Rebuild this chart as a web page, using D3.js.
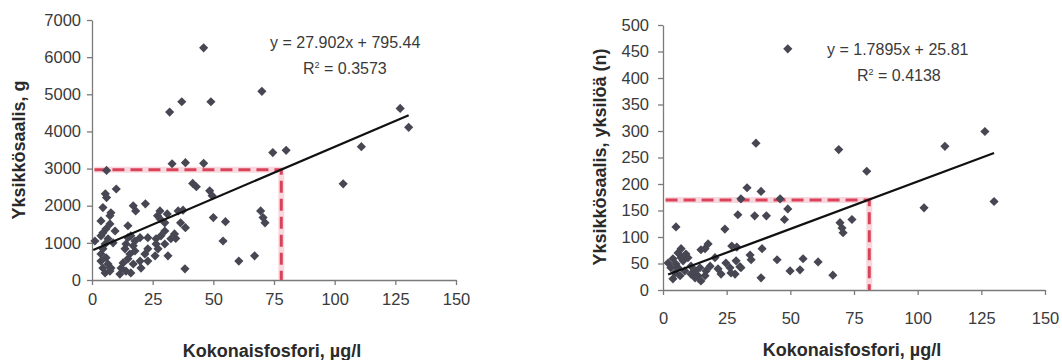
<!DOCTYPE html>
<html><head><meta charset="utf-8">
<script src="https://cdn.jsdelivr.net/npm/d3@7/dist/d3.min.js"></script>
<style>body{margin:0;background:#fff}svg{display:block}</style>
</head><body><svg id="c" width="1062" height="360"></svg>
<script>
// ---------- data ----------
const xTickValues = [0, 25, 50, 75, 100, 125, 150];
const leftYTickValues = [0, 1000, 2000, 3000, 4000, 5000, 6000, 7000];
const rightYTickValues = [0, 50, 100, 150, 200, 250, 300, 350, 400, 450, 500];

const xTitle = "Kokonaisfosfori, µg/l";
const leftYTitle = "Yksikkösaalis, g";
const rightYTitle = "Yksikkösaalis, yksilöä (n)";
const leftEquation = ["y = 27.902x + 795.44", "0.3573"];
const rightEquation = ["y = 1.7895x + 25.81", "0.4138"];

// [kokonaisfosfori µg/l, yksikkösaalis g]
const leftPoints = [
  [6,2950],[32,4520],[37,4800],[46,6250],[49,4800],[70,5080],[33,3130],[38.5,3160],[46,3140],[74.5,3430],[80,3490],
  [48.5,2400],[49.5,2270],[50,1680],[55,1570],[54,1050],[60.5,510],[67,650],[69.5,1860],[70.5,1680],[71.3,1540],
  [103.5,2590],[111,3590],[127,4620],[130.5,4110],
  [41.5,2600],[43,2510],[10,2450],[5.5,2320],[6,2220],[4.5,1950],[7.8,1810],[7.4,1730],[17,2000],[18,1860],[22,2050],
  [28,1860],[31,1780],[35.5,1860],[27,1730],[36.5,1540],[30,1540],[38.5,1410],[14.8,1460],[3.7,1590],[7.4,1510],
  [5.8,1380],[9.5,1320],[4.5,1270],[3.7,1190],[1.2,1050],[6.6,1110],[5.4,970],[8.7,1000],[4.5,840],[3.7,700],
  [5.8,600],[3.7,510],[6.6,430],[4.5,320],[5.4,190],[7.4,240],[7.8,320],
  [14.8,1140],[16,1190],[17.7,1050],[14,970],[17,920],[13.6,840],[17.7,780],[15.6,700],[19.8,1140],[23,1140],
  [26.4,1110],[28.4,1190],[30,1320],[32.5,1110],[34.5,1120],[30,970],[26.4,970],[27.2,840],[31.3,650],
  [23,840],[21.8,700],[26,650],[19.8,510],[23,510],[14.8,570],[12.8,460],[17,430],[12,320],[14,240],[11.5,160],
  [16,190],[20.2,320],[38.3,300],[34,1240],[37.5,1880],[28,1650]
];
// [kokonaisfosfori µg/l, yksilöä n]
const rightPoints = [
  [49,455],[36.5,277],[69,265],[80,224],[110.7,271],[126.4,299],[130,167],[102.5,155],
  [69.5,127],[70.3,117],[70.7,108],[74.2,133],[49,153],[47.7,133],[46,172],[40.6,140],[38.9,78],[44.8,57],
  [49.9,36],[53.8,38],[55,59],[60.9,53],[66.7,28],[38.5,23],
  [33,193],[38.5,186],[30.6,172],[29.4,142],[36,140],[5.1,119],[24.3,115],[16.5,78],[17.7,87],[14.9,76],
  [27,83],[29,81],[34.2,66],[34.6,57],[21.6,40],[24.7,51],[26.3,42],[28.3,30],[30.2,44],[26.7,32],[20.4,61],
  [3.9,59],[5.9,70],[7.1,78],[9,68],[9.8,61],[7.9,55],[2,51],[5.1,49],[3.1,42],[4.7,32],[6.7,27],[3.9,21],
  [8.6,36],[11,45],[12.6,36],[14.5,42],[13.7,27],[16.5,27],[14.9,17],[16.9,36],[18.5,45],[12.6,23],[11,30],
  [7.1,61],[5.9,42],[22.8,30],[28.7,55],[30.6,42]
];

const leftTrend = [[0.5, 810], [130.5, 4437]];
const rightTrend = [[2, 29.4], [130, 258.4]];
const leftGuide = [78, 2970];
const rightGuide = [81, 170];
const guideStartX = 1;

// ---------- drawing ----------
const svg = d3.select("#c");
const FONT = "'Liberation Sans', Arial, sans-serif";
const TEXT = "#3a3a3a";
const AXIS = "#7a7a7a";
const MARK = "#474753";
const RED = "#d9435a";

function chart(cfg) {
  const x = d3.scaleLinear().domain([0, 150]).range(cfg.xRange);
  const y = d3.scaleLinear().domain(cfg.yDomain).range(cfg.yRange);
  const g = svg.append("g");

  const ya = g.append("g").attr("transform", `translate(${cfg.xRange[0]},0)`)
    .call(d3.axisLeft(y).tickValues(cfg.yTicks).tickSize(5).tickSizeOuter(0).tickPadding(cfg.yPad).tickFormat(d3.format("d")));
  const xa = g.append("g").attr("transform", `translate(0,${cfg.yRange[0]})`)
    .call(d3.axisBottom(x).tickValues(xTickValues).tickSize(5).tickSizeOuter(0).tickPadding(cfg.xPad).tickFormat(d3.format("d")));
  [ya, xa].forEach(a => {
    a.select(".domain").attr("stroke", AXIS).attr("stroke-width", 1.3);
    a.selectAll(".tick line").attr("stroke", AXIS).attr("stroke-width", 1.3);
    a.selectAll(".tick text").attr("fill", TEXT).style("font-family", FONT).style("font-size", "16.5px");
  });

  // guide lines (halo + dashes)
  const gx = cfg.guide[0], gy = cfg.guide[1];
  const guidePath = d3.line()([[x(guideStartX), y(gy)], [x(gx), y(gy)], [x(gx), y(0)]]);
  g.append("path").attr("d", guidePath).attr("fill", "none").attr("stroke", "#f2b8c2").attr("stroke-width", 6).attr("opacity", 0.55);
  g.append("path").attr("d", guidePath).attr("fill", "none").attr("stroke", RED).attr("stroke-width", 3)
    .attr("stroke-dasharray", "12,6");

  // points
  g.append("g").selectAll("path").data(cfg.points).join("path")
    .attr("d", d3.symbol(d3.symbolSquare, 42)())
    .attr("transform", d => `translate(${x(d[0])},${y(d[1])}) rotate(45)`)
    .attr("fill", MARK);

  // trend line
  g.append("path").attr("d", d3.line().x(d => x(d[0])).y(d => y(d[1]))(cfg.trend))
    .attr("stroke", "#111").attr("stroke-width", 2.2).attr("fill", "none");

  // equation
  g.append("text").attr("x", cfg.eqPos[0]).attr("y", cfg.eqPos[1]).attr("fill", TEXT)
    .style("font-family", FONT).style("font-size", "16px").text(cfg.eq[0]);
  const r = g.append("text").attr("x", cfg.rPos[0]).attr("y", cfg.rPos[1]).attr("fill", TEXT)
    .style("font-family", FONT).style("font-size", "16px");
  r.append("tspan").text("R");
  r.append("tspan").attr("dy", -6).style("font-size", "9px").text("2");
  r.append("tspan").attr("dy", 6).text(" = " + cfg.eq[1]);

  // titles
  g.append("text").attr("x", cfg.xTitlePos[0]).attr("y", cfg.xTitlePos[1]).attr("text-anchor", "middle")
    .attr("fill", "#2a2a2a").style("font-family", FONT).style("font-size", "18px").style("font-weight", "bold").text(xTitle);
  g.append("text").attr("transform", `translate(${cfg.yTitlePos[0]},${cfg.yTitlePos[1]}) rotate(-90)`)
    .attr("text-anchor", "middle").attr("dominant-baseline", "central")
    .attr("fill", "#2a2a2a").style("font-family", FONT).style("font-size", "18px").style("font-weight", "bold").text(cfg.yTitle);
}

chart({
  xRange: [92, 456], yDomain: [0, 7000], yRange: [280, 20], yTicks: leftYTickValues, yPad: 6, xPad: 8,
  points: leftPoints, trend: leftTrend, guide: leftGuide, eq: leftEquation,
  eqPos: [270, 48], rPos: [303, 74], xTitlePos: [272, 357], yTitlePos: [19, 150], yTitle: leftYTitle
});
chart({
  xRange: [663, 1045], yDomain: [0, 500], yRange: [290, 25], yTicks: rightYTickValues, yPad: 9, xPad: 17,
  points: rightPoints, trend: rightTrend, guide: rightGuide, eq: rightEquation,
  eqPos: [827, 55], rPos: [857, 81], xTitlePos: [852, 356], yTitlePos: [600, 157], yTitle: rightYTitle
});
</script>
</body></html>
